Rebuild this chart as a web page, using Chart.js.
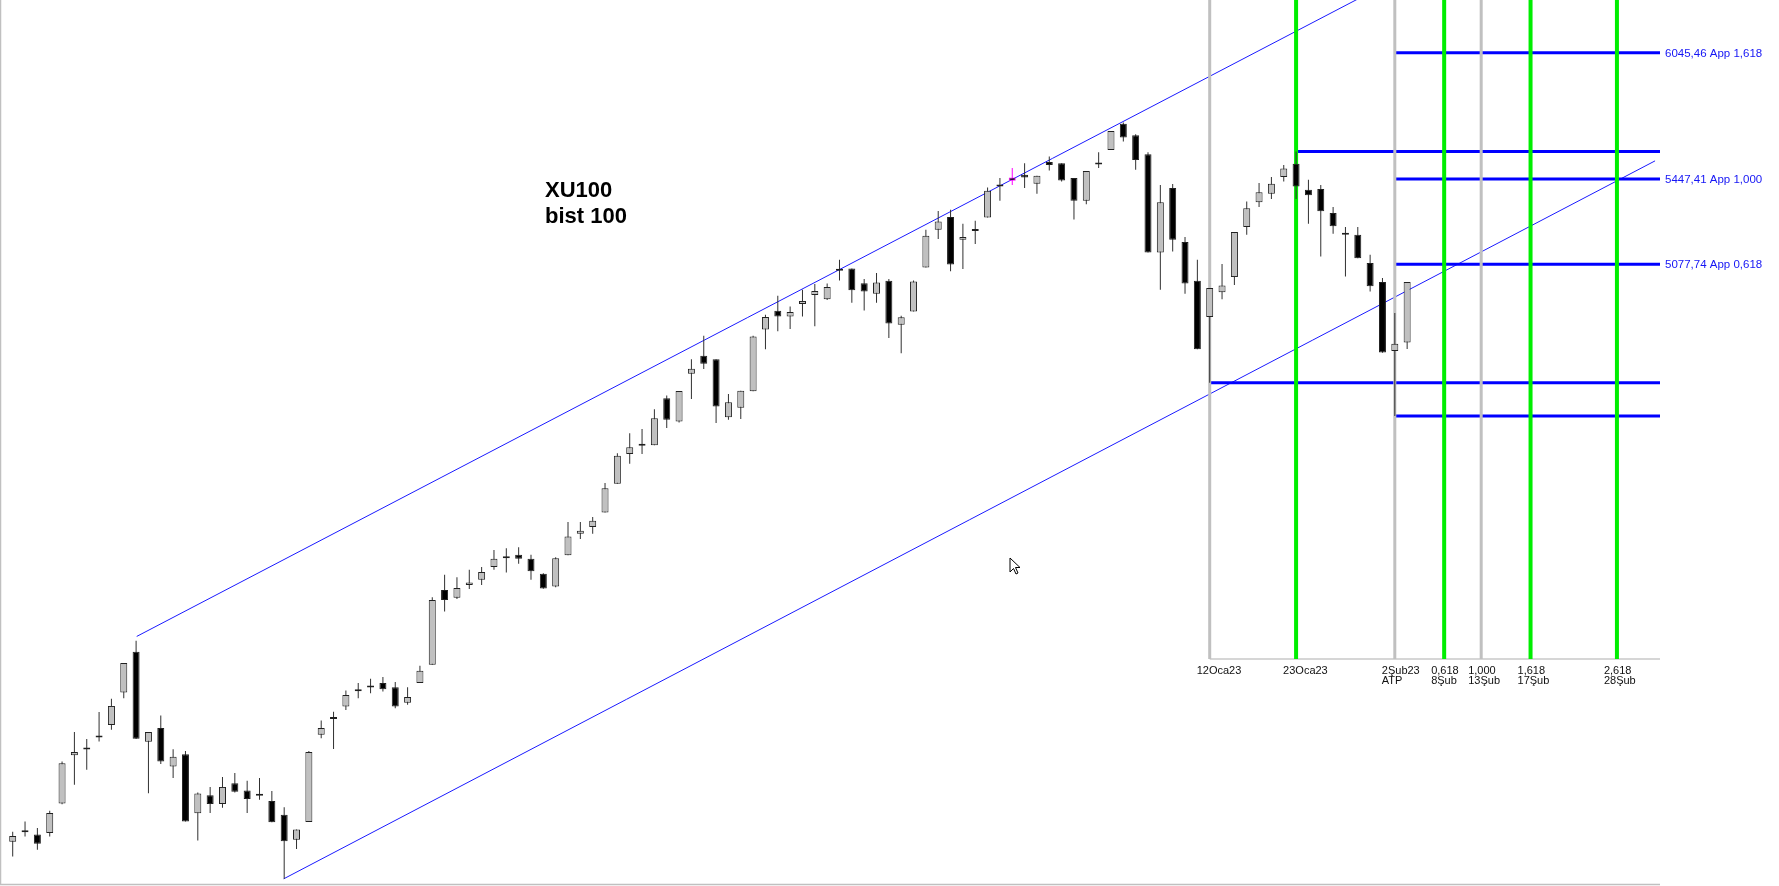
<!DOCTYPE html>
<html>
<head>
<meta charset="utf-8">
<script src="https://cdn.jsdelivr.net/npm/chart.js@4.4.0/dist/chart.umd.min.js"></script>
<style>
  html, body { margin: 0; padding: 0; background: #fff; overflow: hidden; }
  #wrap { width: 1779px; height: 886px; }
</style>
</head>
<body>
<div id="wrap"><canvas id="stockChart" width="1779" height="886"></canvas></div>
<script>
// XU100 daily candles, index 0 .. 113 (last = 3 Feb 2023)
const opens = [3153,3183,3172,3176,3254,3386,3402,3442,3472,3566,3688,3424,3463,3355,3389,3228,3276,3253,3309,3289,
  3277,3261,3224,3158,3205,3444,3489,3525,3570,3586,3594,3582,3536,3594,3649,3881,3856,3897,3914,3955,
  3984,3995,3982,3933,3892,3994,4065,4088,4137,4236,4342,4371,4373,4546,4460,4639,4708,4695,4475,4511,
  4572,4811,4886,4863,4914,4950,4933,5050,5060,4998,4955,5009,4830,4883,5064,5224,5279,5181,5219,5277,
  5421,5454,5466,5426,5524,5519,5452,5351,5513,5579,5701,5648,5560,5127,5407,5171,5009,4861,4961,5024,
  5236,5344,5381,5456,5516,5399,5403,5297,5202,5203,5083,5004,4727,4760];
const highs = [3179,3206,3189,3235,3369,3452,3432,3509,3548,3654,3722,3452,3499,3403,3398,3284,3299,3326,3337,3316,
  3323,3288,3244,3185,3398,3485,3510,3572,3594,3607,3612,3597,3582,3646,3858,3930,3922,3946,3955,4011,
  4017,4020,3995,3935,3987,4105,4105,4122,4239,4344,4417,4432,4505,4556,4573,4695,4787,4695,4562,4574,
  4787,4870,4947,4903,4972,4995,4997,5096,5060,5016,5041,5016,4866,5010,5224,5306,5311,5250,5263,5409,
  5452,5497,5519,5462,5549,5519,5452,5484,5569,5668,5707,5652,5569,5421,5425,5193,5096,4979,5078,5214,
  5347,5429,5456,5511,5572.4,5444,5421,5323,5236,5236,5117,5020,4877,5004];
const lows = [3115,3167,3132,3167,3252,3305,3346,3425,3458,3549,3432,3282,3362,3323,3206,3156,3229,3243,3284,3229,
  3264,3204,3058,3134,3205,3434,3404,3515,3549,3564,3569,3520,3530,3594,3649,3813,3852,3884,3897,3946,
  3937,3966,3914,3885,3890,3994,4048,4065,4137,4236,4307,4342,4373,4436,4456,4543,4657,4454,4466,4469,
  4572,4734,4804,4813,4863,4824,4930,5010,4919,4887,4919,4778,4718,4883,5064,5184,5048,5058,5163,5277,
  5351,5421,5407,5381,5486,5436,5268,5335,5497,5579,5618,5489,5127,4972,5131,4955,4734,4604.68,4933,4991,
  5203,5323,5358,5436,5358,5250,5110,5207,5026,5103,4965,4720,4479.69,4735];
const closes = [3168,3178,3148,3229,3364,3395,3404,3436,3527,3654,3433,3452,3369,3382,3206,3281,3253,3299,3286,3266,
  3275,3204,3154,3185,3395,3463,3491,3559,3572,3581,3576,3525,3553,3631,3849,3849,3887,3905,3939,3982,
  3986,3982,3941,3886,3984,4056,4075,4109,4221,4335,4366,4373,4472,4466,4573,4658,4677,4515,4531,4574,
  4784,4861,4863,4881,4926,4967,4983,5052,4970,4965,5002,4835,4860,5006,5198,5260,5076,5193,5221,5395,
  5414,5440,5454,5462,5511,5441,5351,5484,5516,5668,5637,5534,5127,5344,5181,4997,4734,4979,4989,5214,
  5318,5388,5426,5495,5414,5375,5304,5239,5204,5103,4986,4721,4755,5004];
const markedCandle = 81;

// time lines (candle index), bottom labels
const timeIdx = [97, 104, 112, 116, 119, 123, 130];
const timeKind = ['gray', 'green', 'gray', 'green', 'gray', 'green', 'green'];
const timeLabel1 = ['12Oca23', '23Oca23', '2Şub23', '0,618', '1,000', '1,618', '2,618'];
const timeLabel2 = ['', '', 'ATP', '8Şub', '13Şub', '17Şub', '28Şub'];

// horizontal price levels
const levelValues = [6045.46, 5572.40, 5447.41, 5077.74, 4604.68, 4479.69];
const levelStart = [112, 104, 112, 112, 97, 112];
const levelLabels = ['6045,46 App 1,618', '', '5447,41 App 1,000', '5077,74 App 0,618', '', ''];

// channel lines [x, price]
const channelUpper = [[10.05, 3735], [112, 6421]];
const channelLower = [[21.96, 3058], [133.09, 5529.5]];

const xMin = -0.948, xMax = 133.49;
const yMin = 3045.0, yMax = 6314.3;
const timeLineBottom = 3666.1;

const bodies = opens.map((o, i) => ({ x: i, y: [o, closes[i]] }));
const wicks = lows.map((l, i) => ({ x: i, y: [l, highs[i]] }));
const bodyFill = opens.map((o, i) => (closes[i] < o ? '#000000' : '#c0c0c0'));
const bodyEdge = opens.map((o, i) => (i === markedCandle ? '#ff00ff' : '#202020'));
const wickColor = opens.map((o, i) => (i === markedCandle ? '#ff00ff' : '#303030'));

const datasets = [
  {
    type: 'bar', data: bodies, order: 0, grouped: false,
    barThickness: 7, minBarLength: 2, borderWidth: 1, borderSkipped: false, inflateAmount: 0,
    backgroundColor: bodyFill, borderColor: bodyEdge,
  },
  {
    type: 'bar', data: wicks, order: 1, grouped: false,
    barThickness: 1, borderWidth: 0, inflateAmount: 0,
    backgroundColor: wickColor,
  },
];

timeIdx.forEach((t, k) => {
  datasets.push({
    type: 'line', order: 2,
    data: [{ x: t, y: yMax }, { x: t, y: timeLineBottom }],
    borderColor: timeKind[k] === 'green' ? '#00ee00' : '#c0c0c0',
    borderWidth: timeKind[k] === 'green' ? 4 : 3,
    pointRadius: 0, fill: false,
  });
});
datasets.push({
  type: 'line', order: 2,
  data: [{ x: timeIdx[0], y: timeLineBottom }, { x: xMax, y: timeLineBottom }],
  borderColor: '#c8c8c8', borderWidth: 1.5, pointRadius: 0, fill: false,
});

levelValues.forEach((v, k) => {
  datasets.push({
    type: 'line', order: 3,
    data: [{ x: levelStart[k], y: v }, { x: xMax, y: v }],
    borderColor: '#0000ff', borderWidth: 3, pointRadius: 0, fill: false,
  });
});

[channelUpper, channelLower].forEach((c) => {
  datasets.push({
    type: 'line', order: 4,
    data: c.map((p) => ({ x: p[0], y: p[1] })),
    borderColor: '#1a1aff', borderWidth: 1, pointRadius: 0, fill: false,
  });
});

const overlay = {
  id: 'overlay',
  afterDatasetsDraw(chart) {
    const { ctx, chartArea: a, scales: { x, y } } = chart;
    ctx.save();
    // frame
    ctx.strokeStyle = '#c0c0c0';
    ctx.lineWidth = 1.5;
    ctx.beginPath();
    ctx.moveTo(a.left - 0.5, a.top);
    ctx.lineTo(a.left - 0.5, a.bottom + 0.5);
    ctx.lineTo(a.right, a.bottom + 0.5);
    ctx.stroke();

    // title
    ctx.fillStyle = '#000';
    ctx.font = 'bold 22px "Liberation Sans", Arial, sans-serif';
    ctx.textBaseline = 'alphabetic';
    ctx.fillText('XU100', 545, 197);
    ctx.fillText('bist 100', 545, 223);

    // time labels
    ctx.font = '11px "Liberation Sans", Arial, sans-serif';
    ctx.fillStyle = '#101010';
    const baseY = y.getPixelForValue(timeLineBottom);
    timeIdx.forEach((t, k) => {
      const px = x.getPixelForValue(t) - 13;
      ctx.fillText(timeLabel1[k], px, baseY + 14.5);
      if (timeLabel2[k]) ctx.fillText(timeLabel2[k], px, baseY + 24.5);
    });

    // level labels
    ctx.fillStyle = '#1515f5';
    ctx.font = '11.5px "Liberation Sans", Arial, sans-serif';
    levelValues.forEach((v, k) => {
      if (!levelLabels[k]) return;
      ctx.fillText(levelLabels[k], a.right + 5, y.getPixelForValue(v) + 4);
    });

    // mouse pointer
    ctx.translate(1010, 558);
    ctx.beginPath();
    ctx.moveTo(0, 0); ctx.lineTo(0, 14); ctx.lineTo(3.5, 10.5); ctx.lineTo(6, 16);
    ctx.lineTo(8, 15); ctx.lineTo(5.5, 9.5); ctx.lineTo(10, 9.5); ctx.closePath();
    ctx.fillStyle = '#fff'; ctx.fill();
    ctx.strokeStyle = '#000'; ctx.lineWidth = 1; ctx.stroke();
    ctx.restore();
  },
};

new Chart(document.getElementById('stockChart'), {
  type: 'bar',
  data: { datasets },
  options: {
    responsive: false,
    devicePixelRatio: 1,
    animation: false,
    layout: { padding: { left: 1, right: 119, top: 0, bottom: 2 } },
    scales: {
      x: { type: 'linear', min: xMin, max: xMax, offset: false, display: false },
      y: { type: 'logarithmic', min: yMin, max: yMax, display: false },
    },
    plugins: { legend: { display: false }, tooltip: { enabled: false } },
  },
  plugins: [overlay],
});
</script>
</body>
</html>
